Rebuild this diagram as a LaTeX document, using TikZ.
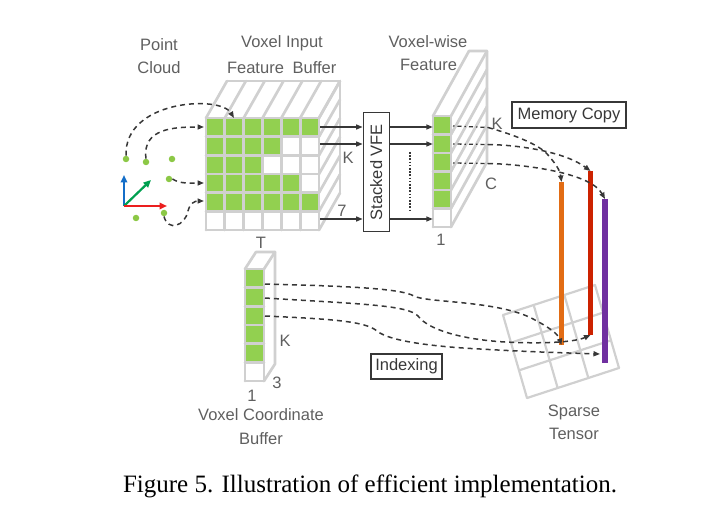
\documentclass[tikz,border=0pt]{standalone}
\usepackage{fontspec}
\setmainfont{Liberation Serif}
\newfontfamily\labfont{Liberation Sans}
\usetikzlibrary{arrows.meta,calc}
\definecolor{cellgreen}{RGB}{146,208,80}
\definecolor{gridgray}{RGB}{208,208,208}
\definecolor{labgray}{RGB}{95,95,95}
\definecolor{ink}{RGB}{55,55,55}
\definecolor{barorange}{RGB}{226,108,20}
\definecolor{barred}{RGB}{204,34,0}
\definecolor{barpurple}{RGB}{112,48,160}
\definecolor{dotgreen}{RGB}{140,200,70}
\definecolor{axblue}{RGB}{20,110,200}
\definecolor{axgreen}{RGB}{0,160,80}
\definecolor{axred}{RGB}{235,30,30}
\begin{document}
\begin{tikzpicture}[x=1pt,y=-1pt,
  gridline/.style={draw=gridgray,line width=2.7pt,line join=round,line cap=round},
  lab/.style={text=labgray,font=\labfont\fontsize{16.5}{18}\selectfont,inner sep=0pt},
  boxed/.style={draw=ink,line width=1.4pt,text=ink,font=\labfont\fontsize{16.5}{18}\selectfont,inner sep=2pt},
  arr/.style={draw=ink,line width=1.4pt,-{Triangle[length=6.5pt,width=5pt]}},
  darr/.style={draw=ink,line width=1.5pt,dash pattern=on 5pt off 4pt,-{Triangle[length=6.5pt,width=5pt]}},
  dotdash/.style={draw=ink,line width=1.3pt,dash pattern=on 1.5pt off 3pt on 4pt off 3pt},
  pt/.style={circle,fill=dotgreen,inner sep=0pt,minimum size=6.5pt},
  axis/.style={line width=2.2pt,-{Triangle[length=7.5pt,width=6.5pt]}},
  bar/.style={line width=5.5pt}
]
\useasboundingbox (0,0) rectangle (702,516);

% ---------------- Voxel input feature buffer (cube) ----------------
\foreach \r/\n in {0/6,1/4,2/3,3/5,4/6}{
  \foreach \c in {1,...,\n}{
    \fill[cellgreen] ({206+(\c-1)*113/6},{118+\r*112/6}) rectangle ++(113/6,112/6);
  }
}
\foreach \i in {0,...,6}{
  \draw[gridline] ({206+\i*113/6},118) -- ({206+\i*113/6},230);
  \draw[gridline] (206,{118+\i*112/6}) -- (319,{118+\i*112/6});
  \draw[gridline] ({206+\i*113/6},118) -- ({227+\i*113/6},81);
  \draw[gridline] (319,{118+\i*112/6}) -- (340,{81+\i*112/6});
}
\draw[gridline] (227,81) -- (340,81) -- (340,193);
\node[draw=none,minimum width=113pt,minimum height=112pt,inner sep=0] (cube) at (262.5,174) {};

% ---------------- Stacked VFE ----------------
\node[draw=ink,line width=1.4pt,minimum width=26pt,minimum height=119pt,inner sep=0] (vfe) at (376.3,172.2) {};
\node[rotate=90,text=ink,font=\labfont\fontsize{16.5}{18}\selectfont] at (vfe) {Stacked VFE};

% ---------------- Voxel-wise feature column ----------------
\foreach \r in {0,...,4}{
  \fill[cellgreen] (433,{116+\r*18.5}) rectangle ++(18,18.5);
}
\foreach \i in {0,...,6}{
  \draw[gridline] (433,{116+\i*18.5}) -- (451,{116+\i*18.5});
  \draw[gridline] (451,{116+\i*18.5}) -- (487,{51+\i*18.5});
}
\draw[gridline] (433,116) -- (433,227);
\draw[gridline] (451,116) -- (451,227);
\draw[gridline] (433,116) -- (469,51) -- (487,51) -- (487,162);
\node[minimum width=18pt,minimum height=111pt,inner sep=0] (col) at (442,171.5) {};

% connectors cube -> VFE -> column
\coordinate (a1) at (320,127);
\coordinate (a2) at (320,144);
\coordinate (a3) at (320,219);
\foreach \k in {1,2,3}{
  \draw[arr] (a\k) -- (a\k -| vfe.west);
  \draw[arr] (a\k -| vfe.east) -- (a\k -| col.west);
}
\coordinate (dt1) at (410,152);
\coordinate (dt2) at (410,212);
\draw[ink,line width=2pt,dash pattern=on 1.6pt off 1.6pt] (dt1) -- (dt2);

% ---------------- Voxel coordinate buffer ----------------
\foreach \r in {0,...,4}{
  \fill[cellgreen] (245,{269+\r*112/6}) rectangle ++(19,112/6);
}
\foreach \i in {0,...,6}{
  \draw[gridline] (245,{269+\i*112/6}) -- (264,{269+\i*112/6});
}
\draw[gridline] (245,269) -- (245,381);
\draw[gridline] (264,269) -- (264,381);
\draw[gridline] (245,269) -- (256,252) -- (275,252) -- (264,269);
\draw[gridline] (275,252) -- (275,364) -- (264,381);
\node[minimum width=19pt,minimum height=112pt,inner sep=0] (cbuf) at (254.5,325) {};

% ---------------- Sparse tensor grid ----------------
\coordinate (TA) at (503,315);
\coordinate (TB) at (595,285);
\coordinate (TC) at (619,368);
\coordinate (TD) at (527,398);
\foreach \i in {0,1,2,3}{
  \draw[gridline,line width=2.2pt] ($(TA)!\i/3!(TB)$) -- ($(TD)!\i/3!(TC)$);
  \draw[gridline,line width=2.2pt] ($(TA)!\i/3!(TD)$) -- ($(TB)!\i/3!(TC)$);
}

% ---------------- colored bars ----------------
\coordinate (o1) at (561.5,182); \coordinate (o2) at (561.5,345);
\coordinate (r1) at (590.5,171); \coordinate (r2) at (590.5,335);
\coordinate (p1) at (605,199);   \coordinate (p2) at (605,363);
\draw[bar,barorange] (o1) -- (o2);
\draw[bar,barred] (r1) -- (r2);
\draw[bar,barpurple] (p1) -- (p2);

% ---------------- memory copy arrows ----------------
\coordinate (m1) at (453,126);
\coordinate (m2) at (453,144);
\coordinate (m3) at (453,163);
\coordinate (n1) at (488,127.5);
\coordinate (n2) at (488,144.5);
\coordinate (n3) at (488,163.5);
\draw[dotdash] (m1) -- (n1);
\draw[dotdash] (m2) -- (n2);
\draw[dotdash] (m3) -- (n3);
\draw[darr] (n1) .. controls (515,135) and (540,145) .. (548,155) .. controls (555,163) and (560,170) .. (o1);
\draw[darr] (n2) .. controls (520,145) and (565,152) .. (r1);
\draw[darr] (n3) .. controls (520,164) and (590,172) .. (p1);

% ---------------- indexing arrows ----------------
\coordinate (i1) at (265,284);
\coordinate (i2) at (265,298);
\coordinate (i3) at (265,316);
\draw[darr] (i1) .. controls (340,286) and (400,288) .. (414,296) .. controls (426,303) and (500,300) .. (535,320) .. controls (550,328) and (558,334) .. (o2);
\draw[darr] (i2) .. controls (360,304) and (408,305) .. (418,316) .. controls (430,332) and (470,340) .. (505,342) .. controls (545,344) and (575,342) .. (r2);
\draw[darr] (i3) .. controls (330,319) and (365,321) .. (377,331) .. controls (390,342) and (440,347) .. (480,349) .. controls (530,352) and (570,353) .. (600,354);

% ---------------- point cloud ----------------
\node[pt] (q1) at (126,159) {};
\node[pt] (q2) at (146,162) {};
\node[pt] (q3) at (172,159) {};
\node[pt] (q4) at (169,179) {};
\node[pt] (q5) at (164,213) {};
\node[pt] (q6) at (136,218) {};
\coordinate (O) at (124,206);
\coordinate (ax1) at (124,175);
\coordinate (ax2) at (151,180);
\coordinate (ax3) at (167,206);
\draw[axis,axblue] (O) -- (ax1);
\draw[axis,axgreen] (O) -- (ax2);
\draw[axis,axred] (O) -- (ax3);

\coordinate (e1) at (234,118);
\coordinate (e2) at (204,127);
\coordinate (e3) at (204,183);
\coordinate (e4) at (204,201);
\draw[darr] (q1.north) .. controls (124,100) and (220,95) .. (e1);
\draw[darr] (q2.north) .. controls (142,128) and (175,127) .. (e2);
\draw[darr] (q4.east) .. controls (180,184) and (190,183) .. (e3);
\draw[darr] (q5.south) .. controls (168,232) and (185,226) .. (188,211) .. controls (190,203) and (195,201) .. (e4);

% ---------------- labels ----------------
\node[lab] (lp1) at (159,45) {Point};
\node[lab] (lp2) at (159,68) {Cloud};
\node[lab] (lv1) at (282,43) {Voxel Input};
\node[lab] (lv2) at (255.5,68) {Feature};
\node[lab] (lv3) at (314.5,68) {Buffer};
\node[lab] (lw1) at (428,42) {Voxel-wise};
\node[lab] (lw2) at (428.5,65) {Feature};
\node[lab] (lk1) at (348,158) {K};
\node[lab] (l7) at (342,211) {7};
\node[lab] (lT) at (261,243) {T};
\node[lab] (lone) at (441,240) {1};
\node[lab] (lk2) at (497,124) {K};
\node[lab] (lC) at (491,184) {C};
\node[lab] (lk3) at (285,341) {K};
\node[lab] (l3) at (277,383) {3};
\node[lab] (lone2) at (252,396) {1};
\node[lab] (lvc1) at (261,415) {Voxel Coordinate};
\node[lab] (lvc2) at (261,439) {Buffer};
\node[lab] (ls1) at (574,412) {Sparse};
\node[lab] (ls2) at (574,434) {Tensor};
\node[boxed,minimum width=114pt,minimum height=26pt,inner sep=0] (mem) at (569,115) {Memory Copy};
\node[boxed,minimum width=71pt,minimum height=25pt,inner sep=0] (idx) at (406.5,366.5) {Indexing};

\node[font=\fontsize{25}{28}\selectfont,inner sep=0] (cap) at (370,486) {Figure 5. Illustration of efficient implementation.};
\end{tikzpicture}
\end{document}
